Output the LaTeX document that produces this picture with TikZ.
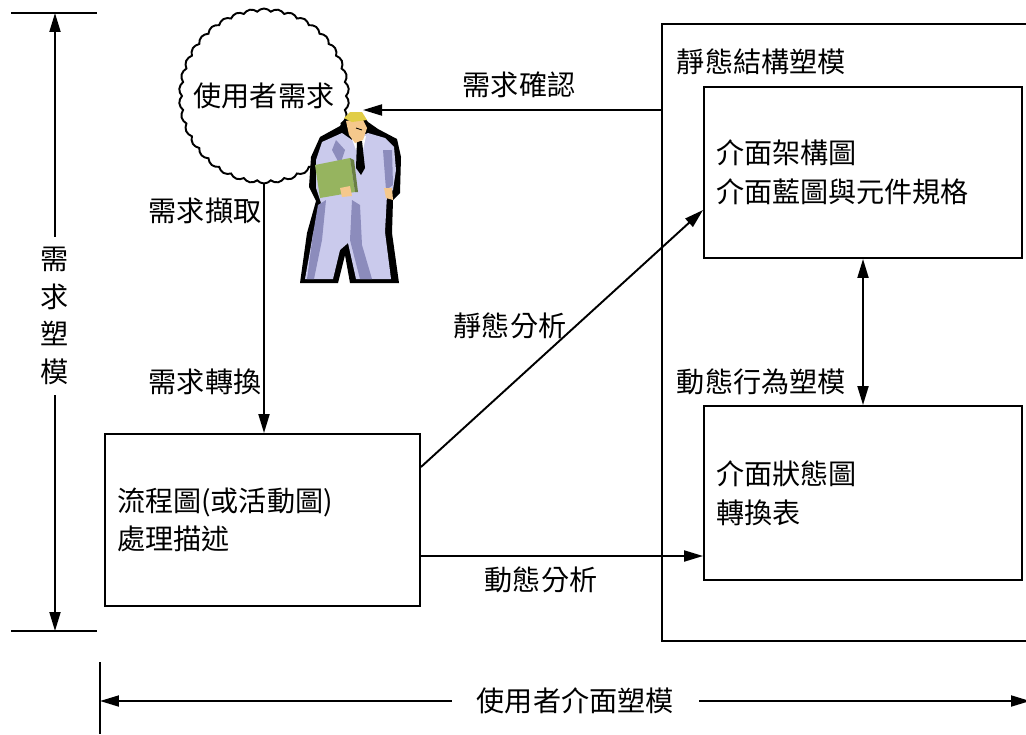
\documentclass[tikz,border=0pt]{standalone}
\usepackage{fontspec}
\setmainfont{Noto Sans CJK TC}
\usetikzlibrary{arrows.meta,shapes.symbols}
\definecolor{suit}{RGB}{202,202,236}
\definecolor{suitdark}{RGB}{140,140,188}
\definecolor{folder}{RGB}{150,180,95}
\definecolor{skin}{RGB}{245,200,140}
\definecolor{hair}{RGB}{225,205,70}
\begin{document}
\begin{tikzpicture}[x=0.02cm,y=-0.02cm,line width=1.1pt,
    font=\fontsize{16}{22}\selectfont,
    >={Triangle[length=0.38cm,width=0.22cm]},
    box/.style={draw,align=left,inner sep=0.24cm},
    gap/.style={fill=white,inner sep=0.1cm}]
  \useasboundingbox (0,0) rectangle (1026,734);

  \coordinate (reqtop) at (55,13);
  \coordinate (reqbot) at (55,631);
  \draw (11,13) -- (97,13) (11,631) -- (97,631);
  \draw[<->] (reqtop) -- (reqbot) node[gap,pos=0.49,inner ysep=0.2cm,align=center,font=\fontsize{16}{21.5}\selectfont] {需\\求\\塑\\模};

  \node[cloud,draw,cloud puffs=38,cloud puff arc=100,cloud ignores aspect,minimum width=3.4cm,minimum height=3.5cm,label=center:使用者需求] (need) at (264,96) {};

  % the man with the folder
  \begin{scope}[line width=0.5pt]
    \fill (347,115) -- (360,112) -- (368,122) -- (378,129) -- (397,139) -- (401,157) -- (400,193) -- (393,200) -- (392,233) -- (399,283) -- (350,283) -- (345,255) -- (338,283) -- (300,283) -- (307,233) -- (316,201) -- (309,187) -- (311,157) -- (320,137) -- (340,126) -- cycle;
    \fill[suit] (322,142) -- (342,133) -- (352,140) -- (368,133) -- (385,138) -- (394,147) -- (396,170) -- (393,190) -- (387,195) -- (385,232) -- (391,279) -- (356,279) -- (348,243) -- (340,250) -- (333,279) -- (305,279) -- (313,234) -- (321,203) -- (316,188) -- (316,160) -- cycle;
    \fill[suitdark] (318,205) -- (326,200) -- (322,240) -- (314,279) -- (307,279) -- (313,234) -- cycle;
    \fill[suitdark] (352,200) -- (360,205) -- (362,245) -- (372,279) -- (360,279) -- (350,240) -- cycle;
    \fill[suitdark] (383,150) -- (392,150) -- (393,185) -- (386,190) -- cycle;
    \fill[suitdark] (336,140) -- (345,150) -- (340,165) -- (332,150) -- cycle;
    \fill[white] (352,139) -- (366,136) -- (363,150) -- (356,150) -- cycle;
    \fill (357,141) -- (362,141) -- (365,168) -- (361,175) -- (356,168) -- cycle;
    \fill[skin] (346,121) -- (362,118) -- (367,128) -- (363,140) -- (355,143) -- (349,135) -- cycle;
    \fill[hair] (344,118) -- (350,112) -- (362,112) -- (367,120) -- (352,122) -- cycle;
    \draw (356,128) -- (362,130);
    \fill[folder] (315,165) -- (350,158) -- (355,192) -- (320,198) -- cycle;
    \fill[folder!70!black] (350,158) -- (354,160) -- (358,192) -- (355,192) -- cycle;
    \fill[skin] (340,188) -- (350,186) -- (352,196) -- (342,197) -- cycle;
    \fill[skin] (384,188) -- (392,188) -- (393,200) -- (386,198) -- cycle;
  \end{scope}

  \node[box,text width=5.82cm,minimum height=3.44cm] (flow) at (262.5,520) {流程圖(或活動圖)\\處理描述};
  \draw[->] (need.south) -- (need.south |- flow.north);
  \node (extract) at (205,211) {需求擷取};
  \node (convert) at (205,382) {需求轉換};

  \node[draw,minimum width=7.96cm,minimum height=12.34cm] (outer) at (861,332.5) {};
  \node[anchor=west,inner sep=0pt] (statlbl) at (676,62) {靜態結構塑模};
  \node[box,text width=5.88cm,minimum height=3.42cm] (stat) at (863,172.5) {介面架構圖\\介面藍圖與元件規格};
  \node[anchor=west,inner sep=0pt] (dynlbl) at (676,382) {動態行為塑模};
  \node[box,text width=5.88cm,minimum height=3.48cm] (dyn) at (863,493) {介面狀態圖\\轉換表};
  \draw[<->] (stat) -- (dyn);

  \coordinate (ack) at (363,110);
  \draw[->] (outer.west |- ack) -- (ack);
  \node (confirm) at (519,85) {需求確認};

  \draw[->] ([yshift=1.06cm]flow.east) -- ([yshift=-0.75cm]stat.west);
  \node (staticlbl) at (510,326) {靜態分析};
  \draw[->] ([yshift=-0.72cm]flow.east) -- ([yshift=-0.72cm]flow.east -| dyn.west);
  \node (dynamiclbl) at (541,580) {動態分析};

  \draw (100,662) -- (100,734);
  \coordinate (uileft) at (100,701);
  \coordinate (uiright) at (1030,701);
  \draw[<->] (uileft) -- (uiright) node[gap,pos=0.511,inner xsep=0.5cm] {使用者介面塑模};
\end{tikzpicture}
\end{document}
